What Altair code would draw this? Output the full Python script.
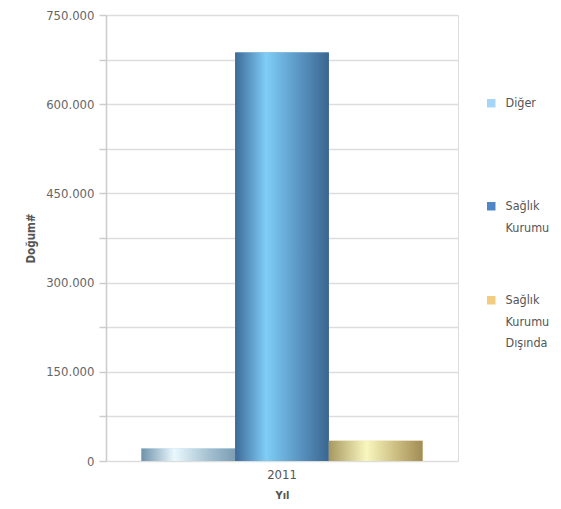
import altair as alt
import pandas as pd

years = ["2011"]
series = ["Diğer", "Sağlık Kurumu", "Sağlık Kurumu Dışında"]
values = [21000, 687000, 34000]
legend_colors = ["#a6d6f7", "#4f86c6", "#f2cd80"]
gradient_stops = [
    [(0.0, "#6f92ab"), (0.35, "#eaf8fd"), (0.75, "#9fbccd"), (1.0, "#7c9db3")],
    [(0.0, "#3d6a97"), (0.33, "#7fcdf8"), (0.7, "#5893c0"), (1.0, "#3a668f")],
    [(0.0, "#a69860"), (0.4, "#f9f7be"), (0.75, "#c8b87c"), (1.0, "#a08c56")],
]
tick_values = [0, 75000, 150000, 225000, 300000, 375000, 450000, 525000, 600000, 675000, 750000]
legend_y = [82, 185, 279]

df = pd.DataFrame({"Yıl": years * 3, "Tür": series, "Doğum": values})

FONT = "DejaVu Sans Condensed, DejaVu Sans, sans-serif"

x_enc = alt.X(
    "Yıl:N",
    scale=alt.Scale(paddingInner=0, paddingOuter=0.126),
    axis=alt.Axis(
        title="Yıl", ticks=False, domain=False, labelAngle=0, labelPadding=7,
        labelFont=FONT, labelFontSize=13, labelColor="#555555",
        titleFont=FONT, titleFontSize=11, titleFontWeight="bold", titleColor="#555555",
        titleY=28, titleBaseline="top",
    ),
)
xo_enc = alt.XOffset("Tür:N", scale=alt.Scale(domain=series, paddingInner=0, paddingOuter=0))
y_enc = alt.Y(
    "Doğum:Q",
    scale=alt.Scale(domain=[0, 750000], nice=False, zero=True),
    axis=alt.Axis(
        title="Doğum#", values=tick_values,
        labelExpr="datum.value % 150000 == 0 ? replace(format(datum.value, ','), ',', '.') : ''",
        labelOverlap=False, labelFont=FONT, labelFontSize=13, labelColor="#666666", labelPadding=5,
        tickSize=7, tickColor="#cccccc", tickWidth=1.5,
        domainColor="#cccccc", domainWidth=1.5,
        gridColor="#dddddd", gridWidth=1.5,
        titleFont=FONT, titleFontSize=11.5, titleFontWeight="bold", titleColor="#555555",
        titleX=-70,
    ),
)

layers = []
for i, s in enumerate(series):
    base = (
        alt.Chart(df)
        .transform_filter(alt.datum["Tür"] == s)
        .mark_bar()
        .encode(
            x=x_enc, xOffset=xo_enc, y=y_enc,
            color=alt.Color(
                "Tür:N",
                scale=alt.Scale(domain=[s], range=[legend_colors[i]]),
                legend=alt.Legend(
                    title=None, orient="none", legendX=379, legendY=legend_y[i], padding=0,
                    symbolType="square", symbolSize=72, symbolStrokeWidth=0,
                    labelExpr="split(datum.label, ' ')", labelFont=FONT, labelFontSize=12.5,
                    labelColor="#555555", labelOffset=8, labelBaseline="middle", labelLimit=0,
                ),
            ),
        )
    )
    grad = (
        alt.Chart(df)
        .transform_filter(alt.datum["Tür"] == s)
        .mark_bar(
            color=alt.LinearGradient(
                gradient="linear", x1=0, x2=1, y1=0, y2=0,
                stops=[alt.GradientStop(offset=o, color=c) for o, c in gradient_stops[i]],
            )
        )
        .encode(x=x_enc, xOffset=xo_enc, y=y_enc)
    )
    layers += [base, grad]

chart = (
    alt.layer(*layers)
    .resolve_scale(color="independent")
    .properties(
        width=352, height=446,
        autosize=alt.AutoSizeParams(type="none"),
        padding={"left": 98, "top": 7, "right": 95, "bottom": 39},
    )
    .configure_view(stroke="#cccccc", strokeWidth=1.5)
    .configure(style={"guide-label": {"lineHeight": 21.5}})
)

chart.save("out.html", embed_options={"renderer": "svg", "actions": False})
